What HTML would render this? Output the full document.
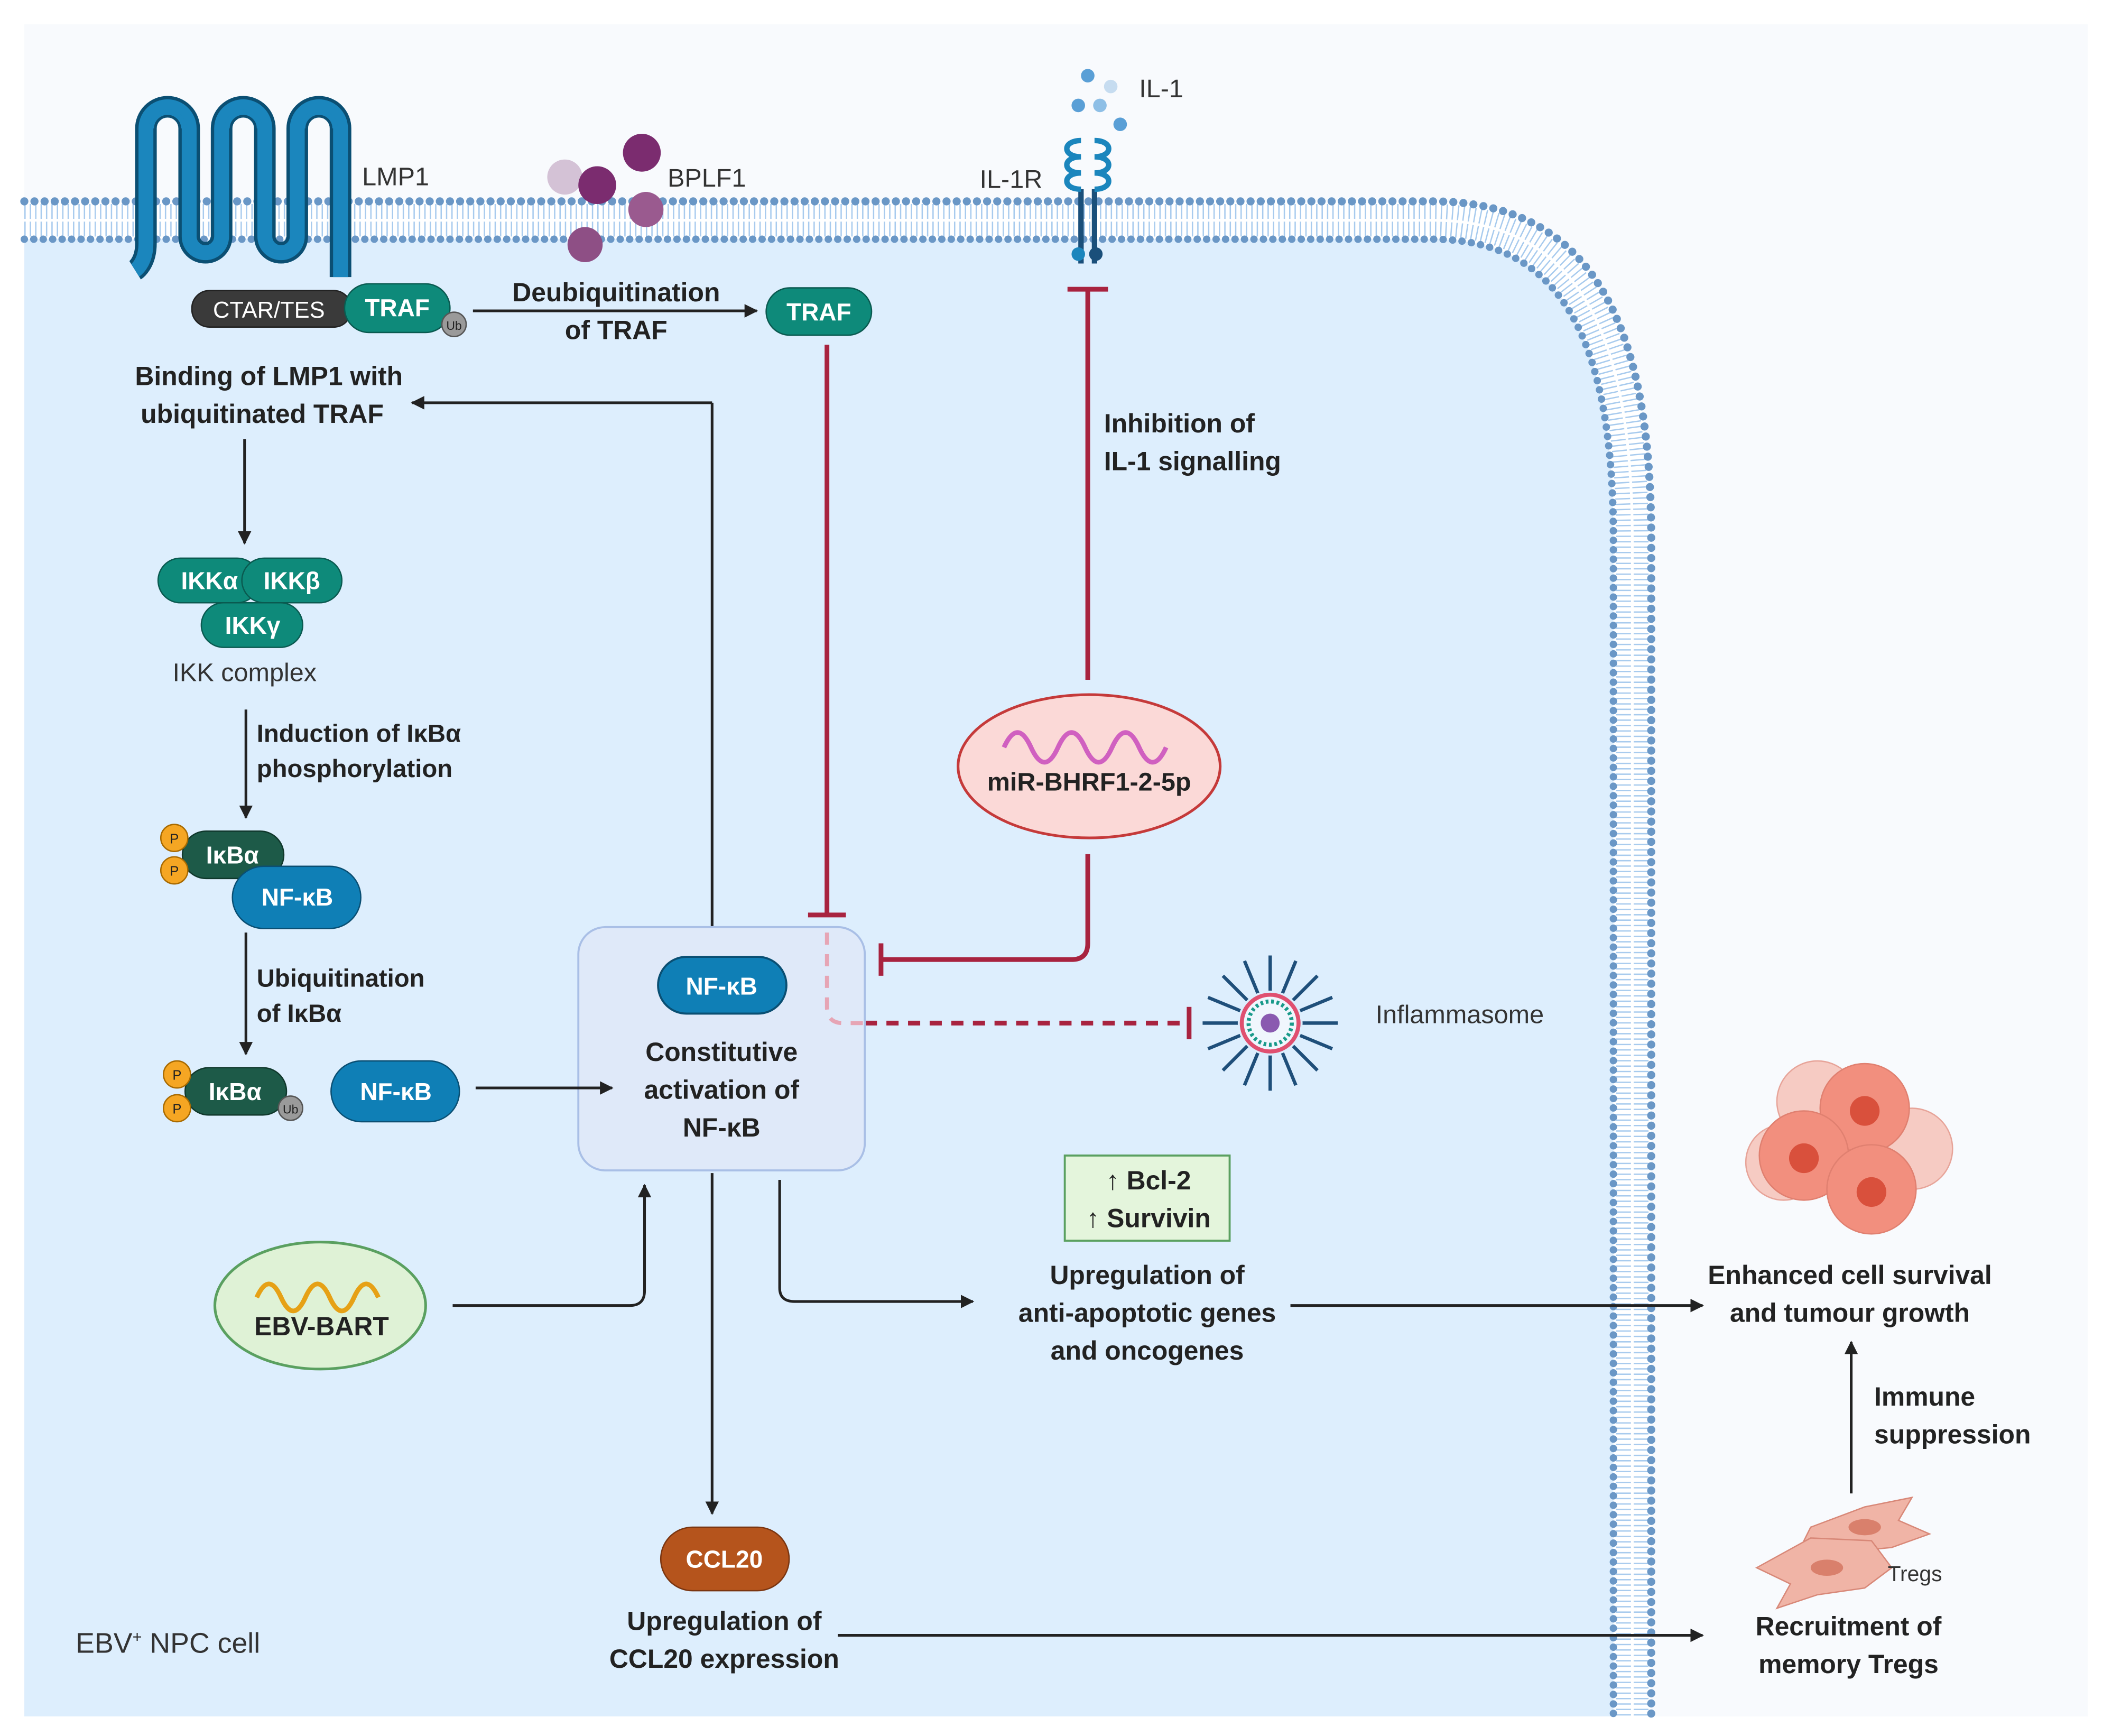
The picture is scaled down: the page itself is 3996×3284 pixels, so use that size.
<!DOCTYPE html>
<html><head><meta charset="utf-8"><style>
html,body{margin:0;padding:0;background:#fff;}
svg{display:block;}
text{font-family:"Liberation Sans",Arial,sans-serif;}
.b{font-weight:bold;font-size:19.5px;fill:#222;text-anchor:middle;}
.bl{font-weight:bold;font-size:19.5px;fill:#222;}
.r{font-size:19px;fill:#333;}
.w{font-weight:bold;font-size:18px;fill:#fff;text-anchor:middle;}
</style></head><body>
<svg width="3996" height="3284" viewBox="0 0 1563 1284.5" xmlns="http://www.w3.org/2000/svg">
<defs>
<marker id="ar" viewBox="0 0 10 10" refX="9" refY="5" markerWidth="5" markerHeight="5" orient="auto"><path d="M0,0 L10,5 L0,10 z" fill="#222"/></marker>
</defs>
<rect x="18" y="18" width="1527" height="1252" fill="#f8fafd"/>
<!-- cell interior -->
<path d="M18,163 L1060,163 C1170,163 1208,250 1208,400 L1208,1270 L18,1270 z" fill="#ddeefd"/>
<!-- membrane -->
<g fill="none">
<path d="M18,163 L1060,163 C1170,163 1208,250 1208,400 L1208,1270" stroke="#fff" stroke-width="28"/>
<path d="M18,163 L1060,163 C1170,163 1208,250 1208,400 L1208,1270" stroke="#a8cbee" stroke-width="24" stroke-dasharray="1 3"/>
<path d="M18,163 L1060,163 C1170,163 1208,250 1208,400 L1208,1270" stroke="#fff" stroke-width="2"/>
<path d="M18,149 L1060,149 C1182,149 1222,245 1222,400 L1222,1270" stroke="#6a97c6" stroke-width="6" stroke-linecap="round" stroke-dasharray="0 7.5"/>
<path d="M18,177 L1060,177 C1158,177 1194,255 1194,400 L1194,1270" stroke="#6a97c6" stroke-width="5.5" stroke-linecap="round" stroke-dasharray="0 7"/>
</g>
<!-- LMP1 -->
<path d="M100,200 C100,200 108,195 108,180 L108,95 A16,16 0 0 1 140,95 L140,175 A12,12 0 0 0 164,175 L164,95 A16,16 0 0 1 196,95 L196,175 A12,12 0 0 0 220,175 L220,95 A16,16 0 0 1 252,95 L252,205" fill="none" stroke="#0b4f73" stroke-width="16" stroke-linejoin="round"/>
<path d="M100,200 C100,200 108,195 108,180 L108,95 A16,16 0 0 1 140,95 L140,175 A12,12 0 0 0 164,175 L164,95 A16,16 0 0 1 196,95 L196,175 A12,12 0 0 0 220,175 L220,95 A16,16 0 0 1 252,95 L252,205" fill="none" stroke="#1b86bd" stroke-width="11" stroke-linejoin="round"/>
<path d="M136,95 A12,12 0 0 0 112,95 M192,95 A12,12 0 0 0 168,95 M248,95 A12,12 0 0 0 224,95" fill="none" stroke="#1b86bd" stroke-width="4"/>
<text x="268" y="137" class="r">LMP1</text>
<rect x="142" y="215" width="118" height="27" rx="13" fill="#3a3a3a" stroke="#222"/>
<text x="199" y="235" font-size="17" fill="#fff" text-anchor="middle">CTAR/TES</text>
<rect x="255" y="210" width="78" height="36" rx="18" fill="#0e8a7a" stroke="#0a5a50"/>
<text x="294" y="234" class="w">TRAF</text>
<circle cx="336" cy="240" r="9" fill="#9a9a9a" stroke="#555"/><text x="336" y="244" font-size="9" fill="#222" text-anchor="middle">Ub</text>
<!-- BPLF1 -->
<circle cx="418" cy="131" r="13" fill="#d4c2d6"/>
<circle cx="478" cy="155" r="13" fill="#9a5a8f"/>
<circle cx="433" cy="181" r="13" fill="#8e4f85"/>
<circle cx="442" cy="137" r="14" fill="#7b2c6f"/>
<circle cx="475" cy="113" r="14" fill="#7b2c6f"/>
<text x="494" y="138" class="r">BPLF1</text>
<line x1="350" y1="230" x2="560" y2="230" stroke="#222" stroke-width="2" marker-end="url(#ar)"/>
<text x="456" y="223" class="b">Deubiquitination</text>
<text x="456" y="251" class="b">of TRAF</text>
<rect x="567" y="213" width="78" height="35" rx="17.5" fill="#0e8a7a" stroke="#0a5a50"/>
<text x="606" y="237" class="w">TRAF</text>
<!-- IL-1R -->
<g fill="none" stroke-width="4">
<path d="M800,195 L800,140 M810,195 L810,140" stroke="#1a4f7a"/>
<path d="M800,140 c-14,0 -14,-12 0,-12 c-14,0 -14,-12 0,-12 c-14,0 -14,-12 0,-12" stroke="#1b86bd"/>
<path d="M810,140 c14,0 14,-12 0,-12 c14,0 14,-12 0,-12 c14,0 14,-12 0,-12" stroke="#1b86bd"/>
</g>
<circle cx="798" cy="188" r="5" fill="#1b86bd"/><circle cx="811" cy="188" r="5" fill="#1a4f7a"/>
<circle cx="805" cy="56" r="5" fill="#5a9fd6"/><circle cx="822" cy="64" r="5" fill="#c6dcf0"/>
<circle cx="798" cy="78" r="5" fill="#5a9fd6"/><circle cx="814" cy="78" r="5" fill="#8ebfe6"/>
<circle cx="829" cy="92" r="5" fill="#5a9fd6"/>
<text x="843" y="72" class="r">IL-1</text>
<text x="725" y="139" class="r">IL-1R</text>
<!-- inhibitions -->
<g stroke="#a8233f" stroke-width="3.5" fill="none">
<line x1="805" y1="215" x2="805" y2="503"/><line x1="790" y1="214" x2="820" y2="214"/>
<path d="M805,632 L805,698 Q805,710 793,710 L652,710"/><line x1="652" y1="698" x2="652" y2="722"/>
<line x1="612" y1="255" x2="612" y2="677"/><line x1="598" y1="677" x2="626" y2="677"/>
<path d="M640,757 L878,757" stroke-dasharray="9 7"/><line x1="880" y1="745" x2="880" y2="769"/>
</g>
<text x="817" y="320" class="bl">Inhibition of</text>
<text x="817" y="348" class="bl">IL-1 signalling</text>
<ellipse cx="806" cy="567" rx="97" ry="53" fill="#fbd9d7" stroke="#c53a3a" stroke-width="2"/>
<path d="M743,553 q10,-22 20,0 t20,0 t20,0 t20,0 t20,0 t20,0" fill="none" stroke="#d060c0" stroke-width="3.5"/>
<text x="806" y="585" class="b" style="font-size:19px">miR-BHRF1-2-5p</text>
<!-- inflammasome -->
<g stroke="#1f4f7a" stroke-width="2.5">
<line x1="940" y1="757" x2="990" y2="757"/><line x1="940" y1="757" x2="890" y2="757"/>
<line x1="940" y1="757" x2="940" y2="707"/><line x1="940" y1="757" x2="940" y2="807"/>
<line x1="940" y1="757" x2="975" y2="722"/><line x1="940" y1="757" x2="905" y2="792"/>
<line x1="940" y1="757" x2="905" y2="722"/><line x1="940" y1="757" x2="975" y2="792"/>
<line x1="940" y1="757" x2="986" y2="738"/><line x1="940" y1="757" x2="894" y2="776"/>
<line x1="940" y1="757" x2="959" y2="711"/><line x1="940" y1="757" x2="921" y2="803"/>
<line x1="940" y1="757" x2="986" y2="776"/><line x1="940" y1="757" x2="894" y2="738"/>
<line x1="940" y1="757" x2="959" y2="803"/><line x1="940" y1="757" x2="921" y2="711"/>
</g>
<circle cx="940" cy="757" r="24" fill="#ddeefd"/>
<circle cx="940" cy="757" r="21" fill="#f0f6fd" stroke="#e05070" stroke-width="3"/>
<circle cx="940" cy="757" r="16" fill="none" stroke="#1a9a8a" stroke-width="3" stroke-dasharray="2 2"/>
<circle cx="940" cy="757" r="7" fill="#8a5ab0"/>
<text x="1018" y="757" class="r">Inflammasome</text>
<!-- central box -->
<line x1="527" y1="686" x2="527" y2="298" stroke="#222" stroke-width="2"/>
<line x1="527" y1="298" x2="305" y2="298" stroke="#222" stroke-width="2" marker-end="url(#ar)"/>
<rect x="428" y="686" width="212" height="180" rx="20" fill="#dfe7f8" fill-opacity="0.85" stroke="#a9bfe6" stroke-width="1.5"/>
<path d="M612,690 L612,745 Q612,757 624,757 L640,757" fill="none" stroke="#e6a5b5" stroke-width="3" stroke-dasharray="9 7"/>
<rect x="487" y="708" width="95" height="42" rx="21" fill="#0f7fb6" stroke="#0a4f73" stroke-width="1.5"/>
<text x="534" y="736" class="w">NF-κB</text>
<text x="534" y="785" class="b">Constitutive</text>
<text x="534" y="813" class="b">activation of</text>
<text x="534" y="841" class="b">NF-κB</text>
<!-- left column -->
<text x="199" y="285" class="b">Binding of LMP1 with</text>
<text x="194" y="313" class="b">ubiquitinated TRAF</text>
<line x1="181" y1="325" x2="181" y2="402" stroke="#222" stroke-width="2" marker-end="url(#ar)"/>
<rect x="117" y="413" width="75" height="33" rx="16.5" fill="#0e8a7a" stroke="#0a5a50"/>
<rect x="179" y="413" width="74" height="33" rx="16.5" fill="#0e8a7a" stroke="#0a5a50"/>
<rect x="149" y="446" width="75" height="33" rx="16.5" fill="#0e8a7a" stroke="#0a5a50"/>
<text x="155" y="436" class="w">IKKα</text><text x="216" y="436" class="w">IKKβ</text><text x="187" y="469" class="w">IKKγ</text>
<text x="181" y="504" class="r" text-anchor="middle">IKK complex</text>
<line x1="182" y1="525" x2="182" y2="605" stroke="#222" stroke-width="2" marker-end="url(#ar)"/>
<text x="190" y="549" class="bl" style="font-size:18.5px">Induction of IκBα</text>
<text x="190" y="575" class="bl" style="font-size:18.5px">phosphorylation</text>
<rect x="135" y="615" width="75" height="35" rx="17.5" fill="#1d5a48" stroke="#10382c"/>
<text x="172" y="639" class="w">IκBα</text>
<rect x="172" y="641" width="95" height="46" rx="23" fill="#0f7fb6" stroke="#0a4f73"/>
<text x="220" y="670" class="w">NF-κB</text>
<circle cx="129" cy="620" r="10" fill="#f5a623" stroke="#a86a00"/><text x="129" y="624" font-size="10" text-anchor="middle" fill="#222">P</text>
<circle cx="129" cy="644" r="10" fill="#f5a623" stroke="#a86a00"/><text x="129" y="648" font-size="10" text-anchor="middle" fill="#222">P</text>
<line x1="182" y1="690" x2="182" y2="780" stroke="#222" stroke-width="2" marker-end="url(#ar)"/>
<text x="190" y="730" class="bl" style="font-size:18.5px">Ubiquitination</text>
<text x="190" y="756" class="bl" style="font-size:18.5px">of IκBα</text>
<rect x="137" y="790" width="75" height="35" rx="17.5" fill="#1d5a48" stroke="#10382c"/>
<text x="174" y="814" class="w">IκBα</text>
<circle cx="131" cy="795" r="10" fill="#f5a623" stroke="#a86a00"/><text x="131" y="799" font-size="10" text-anchor="middle" fill="#222">P</text>
<circle cx="131" cy="820" r="10" fill="#f5a623" stroke="#a86a00"/><text x="131" y="824" font-size="10" text-anchor="middle" fill="#222">P</text>
<circle cx="215" cy="820" r="9" fill="#9a9a9a" stroke="#555"/><text x="215" y="824" font-size="9" fill="#222" text-anchor="middle">Ub</text>
<rect x="245" y="785" width="95" height="45" rx="22.5" fill="#0f7fb6" stroke="#0a4f73"/>
<text x="293" y="814" class="w">NF-κB</text>
<line x1="352" y1="805" x2="453" y2="805" stroke="#222" stroke-width="2" marker-end="url(#ar)"/>
<!-- EBV-BART -->
<ellipse cx="237" cy="966" rx="78" ry="47" fill="#dff2d6" stroke="#5aa060" stroke-width="2"/>
<path d="M190,960 q9,-20 18,0 t18,0 t18,0 t18,0 t18,0" fill="none" stroke="#e6a116" stroke-width="3.5"/>
<text x="238" y="988" class="b">EBV-BART</text>
<path d="M335,966 L466,966 Q477,966 477,955 L477,877" fill="none" stroke="#222" stroke-width="2" marker-end="url(#ar)"/>
<path d="M577,873 L577,953 Q577,963 588,963 L720,963" fill="none" stroke="#222" stroke-width="2" marker-end="url(#ar)"/>
<rect x="788" y="855" width="122" height="63" fill="#e4f5dc" stroke="#5aa060" stroke-width="1.5"/>
<text x="850" y="880" class="b">↑ Bcl-2</text>
<text x="850" y="908" class="b">↑ Survivin</text>
<text x="849" y="950" class="b">Upregulation of</text>
<text x="849" y="978" class="b">anti-apoptotic genes</text>
<text x="849" y="1006" class="b">and oncogenes</text>
<line x1="955" y1="966" x2="1260" y2="966" stroke="#222" stroke-width="2" marker-end="url(#ar)"/>
<!-- tumour -->
<g stroke="#e08070" stroke-width="1">
<circle cx="1345" cy="815" r="30" fill="#f6b8ab" opacity="0.7"/>
<circle cx="1415" cy="850" r="30" fill="#f6b8ab" opacity="0.7"/>
<circle cx="1320" cy="860" r="28" fill="#f6b8ab" opacity="0.7"/>
<circle cx="1380" cy="820" r="33" fill="#f28f7e"/>
<circle cx="1335" cy="855" r="33" fill="#f28f7e"/>
<circle cx="1385" cy="880" r="33" fill="#f28f7e"/>
</g>
<circle cx="1380" cy="822" r="11" fill="#d9503c"/>
<circle cx="1335" cy="857" r="11" fill="#d9503c"/>
<circle cx="1385" cy="882" r="11" fill="#d9503c"/>
<text x="1369" y="950" class="b">Enhanced cell survival</text>
<text x="1369" y="978" class="b">and tumour growth</text>
<line x1="1370" y1="1105" x2="1370" y2="993" stroke="#222" stroke-width="2" marker-end="url(#ar)"/>
<text x="1387" y="1040" class="bl">Immune</text>
<text x="1387" y="1068" class="bl">suppression</text>
<!-- tregs -->
<path d="M1340,1130 L1380,1115 L1415,1108 L1405,1125 L1428,1135 L1400,1145 L1370,1148 L1335,1140 z" fill="#f0b4a6" stroke="#d88878"/>
<path d="M1300,1160 L1340,1138 L1385,1140 L1400,1160 L1380,1175 L1345,1180 L1315,1190 L1325,1172 z" fill="#f0b4a6" stroke="#d88878"/>
<ellipse cx="1380" cy="1130" rx="12" ry="6" fill="#d9806c"/>
<ellipse cx="1352" cy="1160" rx="12" ry="6" fill="#d9806c"/>
<text x="1397" y="1170" font-size="16" fill="#333">Tregs</text>
<text x="1368" y="1210" class="b">Recruitment of</text>
<text x="1368" y="1238" class="b">memory Tregs</text>
<!-- CCL20 -->
<line x1="527" y1="868" x2="527" y2="1120" stroke="#222" stroke-width="2" marker-end="url(#ar)"/>
<rect x="489" y="1130" width="95" height="47" rx="23.5" fill="#b5541c" stroke="#7a3510"/>
<text x="536" y="1160" class="w">CCL20</text>
<text x="536" y="1206" class="b">Upregulation of</text>
<text x="536" y="1234" class="b">CCL20 expression</text>
<line x1="620" y1="1210" x2="1260" y2="1210" stroke="#222" stroke-width="2" marker-end="url(#ar)"/>
<text x="56" y="1223" font-size="21" fill="#333">EBV<tspan font-size="12" dy="-8">+</tspan><tspan dy="8"> NPC cell</tspan></text>
</svg>
</body></html>
